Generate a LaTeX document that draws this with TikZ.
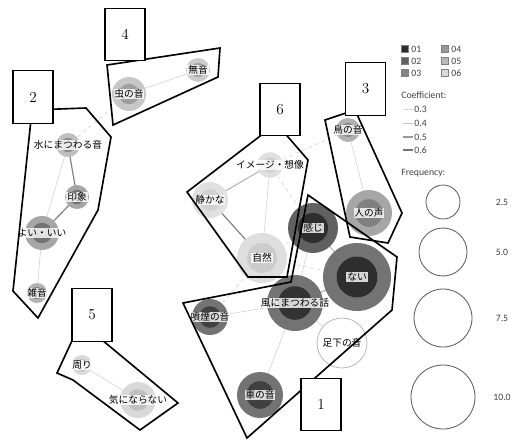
\documentclass[tikz,border=0pt]{standalone}
\usepackage{fontspec}
\newfontfamily\jp{Noto Sans CJK JP}
\newfontfamily\lgd{Carlito}

\tikzset{
  wlabel/.style={font=\jp\fontsize{8.3}{9}\selectfont, fill=white, fill opacity=0.8, text opacity=1, inner sep=0.7pt},
  grp/.style={draw=black, line width=1.4pt, line join=miter},
  numbox/.style={draw=black, line width=0.9pt, fill=white, minimum width=1.2cm, minimum height=1.58cm, inner sep=0pt, font=\fontsize{13}{15}\selectfont},
  edgeweak/.style={draw=black!18, line width=0.5pt},
  edgemid/.style={draw=black!32, line width=0.8pt},
  edgestrong/.style={draw=black!50, line width=1pt},
  edgecross/.style={draw=black!18, dashed, line width=0.5pt},
  lgdtext/.style={font=\lgd\fontsize{8.3}{9}\selectfont, text=black!75, inner sep=1pt}
}

\begin{document}
\begin{tikzpicture}[x=0.03cm, y=-0.03cm]
\useasboundingbox (0,0) rectangle (515,441);

% Words
\foreach \n/\x/\y in {
mizu/68/145, insho/77/197, yoi/42/233, zatsu/37/293,
mushi/129/94, muon/198/70,
image/270/165, shizuka/210/200, shizen/262/258,
tori/348/130, hito/369/213,
mawari/82/365, kini/138/400,
kanji/313/228, nai/357/277, kaze/295/303, funen/210/317, kuruma/260/395, ashi/342/343
}
{
\coordinate (\n) at (\x,\y);
}

% Edges between groups
\foreach \a/\b in {mushi/mizu, image/tori, image/kanji, shizen/kanji, shizen/nai, shizen/funen}
{
\draw[edgecross] (\a) -- (\b);
}

% Edges inside groups
\foreach \a/\b in {mizu/yoi, yoi/zatsu, mushi/muon, mawari/kini, tori/hito, image/shizen,
kanji/kaze, kaze/funen, kaze/kuruma, kaze/ashi}
{
\draw[edgeweak] (\a) -- (\b);
}
\foreach \a/\b in {image/shizuka, kanji/nai, nai/kaze}
{
\draw[edgemid] (\a) -- (\b);
}
\foreach \a/\b in {mizu/insho, insho/yoi, shizuka/shizen}
{
\draw[edgestrong] (\a) -- (\b);
}

% Circles
\foreach \n/\r/\co/\ci in {
mizu/12/black!25/black!45, insho/12/black!35/black!55, yoi/17/black!35/black!55, zatsu/10/black!30/black!50,
mushi/17/black!22/black!38, muon/12/black!20/black!35,
image/13/black!12/black!18, shizuka/18/black!12/black!18, shizen/25/black!13/black!20,
tori/12/black!30/black!45, hito/23/black!35/black!50,
mawari/10/black!15/black!25, kini/18/black!15/black!25,
kanji/25/black!62/black!82, nai/34/black!55/black!82, kaze/28/black!55/black!80,
funen/18/black!55/black!75, kuruma/23/black!55/black!75
}
{
\fill[\co] (\n) circle (\r);
\fill[\ci] (\n) circle ({0.6*\r});
}
\draw[black!30, fill=white, line width=0.6pt] (ashi) circle (25);

% Labels
\node[wlabel] (l-mizu) at (mizu) {水にまつわる音};
\node[wlabel] (l-insho) at (insho) {印象};
\node[wlabel] (l-yoi) at (yoi) {よい・いい};
\node[wlabel] (l-zatsu) at (zatsu) {雑音};
\node[wlabel] (l-mushi) at (mushi) {虫の音};
\node[wlabel] (l-muon) at (muon) {無音};
\node[wlabel] (l-image) at (image) {イメージ・想像};
\node[wlabel] (l-shizuka) at (shizuka) {静かな};
\node[wlabel] (l-shizen) at (shizen) {自然};
\node[wlabel] (l-tori) at (tori) {鳥の音};
\node[wlabel] (l-hito) at (hito) {人の声};
\node[wlabel] (l-mawari) at (mawari) {周り};
\node[wlabel] (l-kini) at (kini) {気にならない};
\node[wlabel] (l-kanji) at (kanji) {感じ};
\node[wlabel] (l-nai) at (nai) {ない};
\node[wlabel] (l-kaze) at (kaze) {風にまつわる話};
\node[wlabel] (l-funen) at (funen) {噴煙の音};
\node[wlabel] (l-kuruma) at (kuruma) {車の音};
\node[wlabel] (l-ashi) at (ashi) {足下の音};

% Groups
\draw[grp] (183,303) -- (291,282) -- (308,195) -- (397,257) -- (392,310) -- (247,438) -- cycle;
\draw[grp] (32,110) -- (86,108) -- (111,137) -- (98,210) -- (38,318) -- (13,291) -- cycle;
\draw[grp] (325,120) -- (355,110) -- (402,213) -- (388,243) -- (350,237) -- cycle;
\draw[grp] (107,65) -- (220,48) -- (218,77) -- (113,125) -- cycle;
\draw[grp] (77,330) -- (90,330) -- (178,403) -- (140,430) -- (73,380) -- (57,373) -- cycle;
\draw[grp] (268,130) -- (282,130) -- (308,160) -- (287,277) -- (248,277) -- (187,192) -- cycle;

\node[numbox] (b1) at (321,404.5) {1};
\node[numbox] (b2) at (33,97) {2};
\node[numbox] (b3) at (365.5,89) {3};
\node[numbox] (b4) at (125,34.5) {4};
\node[numbox] (b5) at (92,315) {5};
\node[numbox] (b6) at (280,109.5) {6};

% Legend
\foreach \k/\c/\x/\y in {01/black!82/405/49, 02/black!62/405/61, 03/black!48/405/73,
04/black!40/445/49, 05/black!28/445/61, 06/black!15/445/73}
{
\filldraw[fill=\c, draw=black!50, line width=0.4pt] (\x-3.5,\y-3.5) rectangle (\x+3.5,\y+3.5);
\node[lgdtext, right] (lg\k) at (\x+5,\y) {\k};
}

\node[lgdtext, right] (coef) at (400,95) {Coefficient:};
\foreach \k/\v/\c/\w/\y in {a/0.3/black!15/0.5/109, b/0.4/black!22/0.6/123, c/0.5/black!40/0.9/137, d/0.6/black!55/1.1/150}
{
\coordinate (cf\k) at (403,\y);
\draw[draw=\c, line width=\w pt] (cf\k) -- ++(10,0) coordinate (cg\k);
\node[lgdtext, right] (lc\k) at (cg\k) {\v};
}

\node[lgdtext, right] (freq) at (400,173) {Frequency:};
\foreach \k/\v/\r/\y in {a/2.5/17/202, b/5.0/24/252, c/7.5/29/318, d/10.0/32/397}
{
\draw[black!65, line width=0.7pt] (443,\y) circle (\r);
\node[lgdtext] (lf\k) at (502,\y) {\v};
}

\end{tikzpicture}
\end{document}
